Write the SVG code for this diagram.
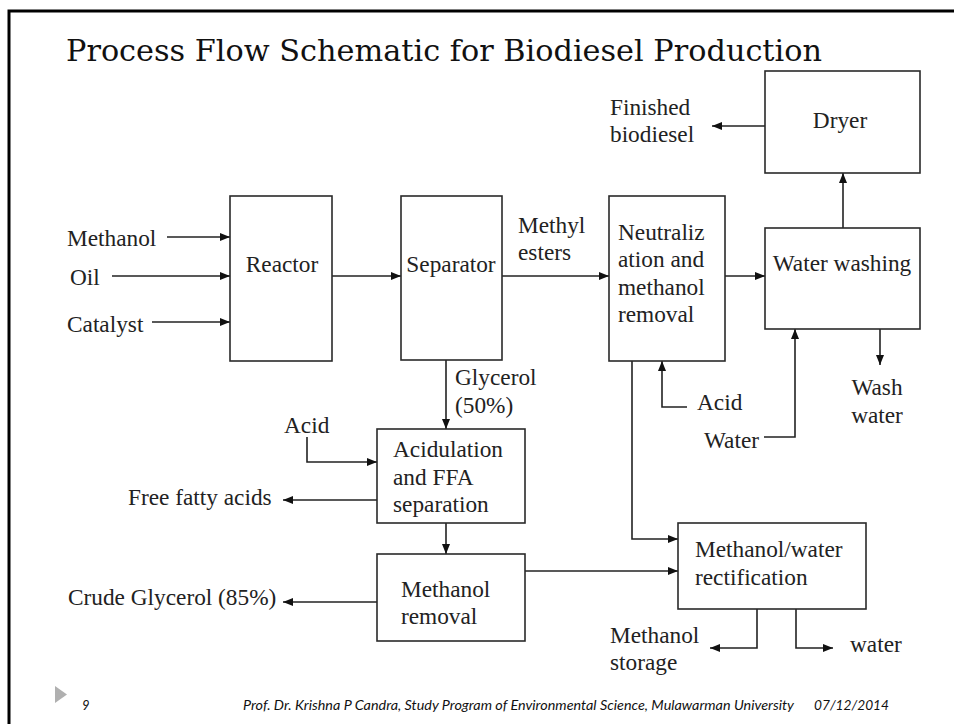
<svg xmlns="http://www.w3.org/2000/svg" width="954" height="724" viewBox="0 0 954 724">
<style>
.box{fill:#fff;stroke:#2a2a2a;stroke-width:1.6}
.ln{fill:none;stroke:#222;stroke-width:1.6}
.ft{font-family:Lato,"Open Sans",sans-serif;font-style:italic;font-size:13px;fill:#111}
</style>
<defs>
<marker id="a" viewBox="0 0 10 10" refX="10" refY="5" markerWidth="10" markerHeight="10" markerUnits="userSpaceOnUse" orient="auto">
<path d="M0,1 L10,5 L0,9 Z" fill="#111"/>
</marker>
</defs>
<rect width="954" height="724" fill="#fff"/>
<g id="frame">
<path d="M9,724 V11 H954" fill="none" stroke="#000" stroke-width="3"/>
</g>
<text x="66" y="61" font-family="'DejaVu Serif','Liberation Serif',serif" font-size="30" fill="#111" textLength="756" lengthAdjust="spacingAndGlyphs">Process Flow Schematic for Biodiesel Production</text>

<g id="connectors">
<path class="ln" d="M167,237 H230" marker-end="url(#a)"/>
<path class="ln" d="M112,276 H230" marker-end="url(#a)"/>
<path class="ln" d="M152,322 H230" marker-end="url(#a)"/>
<path class="ln" d="M332,276 H401" marker-end="url(#a)"/>
<path class="ln" d="M502,276 H609" marker-end="url(#a)"/>
<path class="ln" d="M725,276 H765" marker-end="url(#a)"/>
<path class="ln" d="M843,228 V173" marker-end="url(#a)"/>
<path class="ln" d="M765,126 H712" marker-end="url(#a)"/>
<path class="ln" d="M880,329 V365" marker-end="url(#a)"/>
<path class="ln" d="M764,437 H795 V329" marker-end="url(#a)"/>
<path class="ln" d="M687,407 H662 V361" marker-end="url(#a)"/>
<path class="ln" d="M632,361 V539 H678" marker-end="url(#a)"/>
<path class="ln" d="M446,360 V429" marker-end="url(#a)"/>
<path class="ln" d="M307,437 V462 H377" marker-end="url(#a)"/>
<path class="ln" d="M377,500 H283" marker-end="url(#a)"/>
<path class="ln" d="M446,523 V554" marker-end="url(#a)"/>
<path class="ln" d="M377,602 H283" marker-end="url(#a)"/>
<path class="ln" d="M525,571 H678" marker-end="url(#a)"/>
<path class="ln" d="M757,609 V648 H710" marker-end="url(#a)"/>
<path class="ln" d="M796,609 V648 H833" marker-end="url(#a)"/>
</g>

<g font-family="'Liberation Serif', 'Times New Roman', serif" font-size="23.3" fill="#222">
<g id="reactor">
<rect class="box" x="230" y="196" width="102" height="165"/>
<text x="282" y="272" text-anchor="middle">Reactor</text>
</g>
<g id="separator">
<rect class="box" x="401" y="196" width="101" height="164"/>
<text x="451" y="272" text-anchor="middle">Separator</text>
</g>
<g id="neutralization">
<rect class="box" x="609" y="196" width="116" height="165"/>
<text x="618" y="240">Neutraliz</text>
<text x="618" y="267">ation and</text>
<text x="618" y="295">methanol</text>
<text x="618" y="322">removal</text>
</g>
<g id="water-washing">
<rect class="box" x="765" y="228" width="155" height="101"/>
<text x="842" y="271" text-anchor="middle">Water washing</text>
</g>
<g id="dryer">
<rect class="box" x="765" y="71" width="155" height="102"/>
<text x="840" y="128" text-anchor="middle">Dryer</text>
</g>
<g id="acidulation">
<rect class="box" x="377" y="429" width="148" height="94"/>
<text x="393" y="457">Acidulation</text>
<text x="393" y="485">and FFA</text>
<text x="393" y="512">separation</text>
</g>
<g id="methanol-removal">
<rect class="box" x="377" y="554" width="148" height="87"/>
<text x="401" y="597">Methanol</text>
<text x="401" y="624">removal</text>
</g>
<g id="rectification">
<rect class="box" x="678" y="523" width="188" height="86"/>
<text x="695" y="557">Methanol/water</text>
<text x="695" y="585">rectification</text>
</g>

<g id="labels">
<text x="67" y="246">Methanol</text>
<text x="70" y="285">Oil</text>
<text x="67" y="332">Catalyst</text>
<text x="518" y="233">Methyl</text>
<text x="518" y="260">esters</text>
<text x="610" y="115">Finished</text>
<text x="610" y="142">biodiesel</text>
<text x="877" y="395" text-anchor="middle">Wash</text>
<text x="877" y="423" text-anchor="middle">water</text>
<text x="697" y="410">Acid</text>
<text x="704" y="448">Water</text>
<text x="455" y="385">Glycerol</text>
<text x="455" y="413">(50%)</text>
<text x="284" y="433">Acid</text>
<text x="128" y="505">Free fatty acids</text>
<text x="68" y="605">Crude Glycerol (85%)</text>
<text x="610" y="643">Methanol</text>
<text x="610" y="670">storage</text>
<text x="850" y="652">water</text>
</g>
</g>

<g id="footer">
<path d="M55,686 L67,694.5 L55,703 Z" fill="#b0b0b0"/>
<text class="ft" x="82" y="710">9</text>
<text class="ft" x="243" y="710" textLength="551" lengthAdjust="spacingAndGlyphs">Prof. Dr. Krishna P Candra, Study Program of Environmental Science, Mulawarman University</text>
<text class="ft" x="814" y="710" textLength="75" lengthAdjust="spacingAndGlyphs">07/12/2014</text>
</g>
</svg>
